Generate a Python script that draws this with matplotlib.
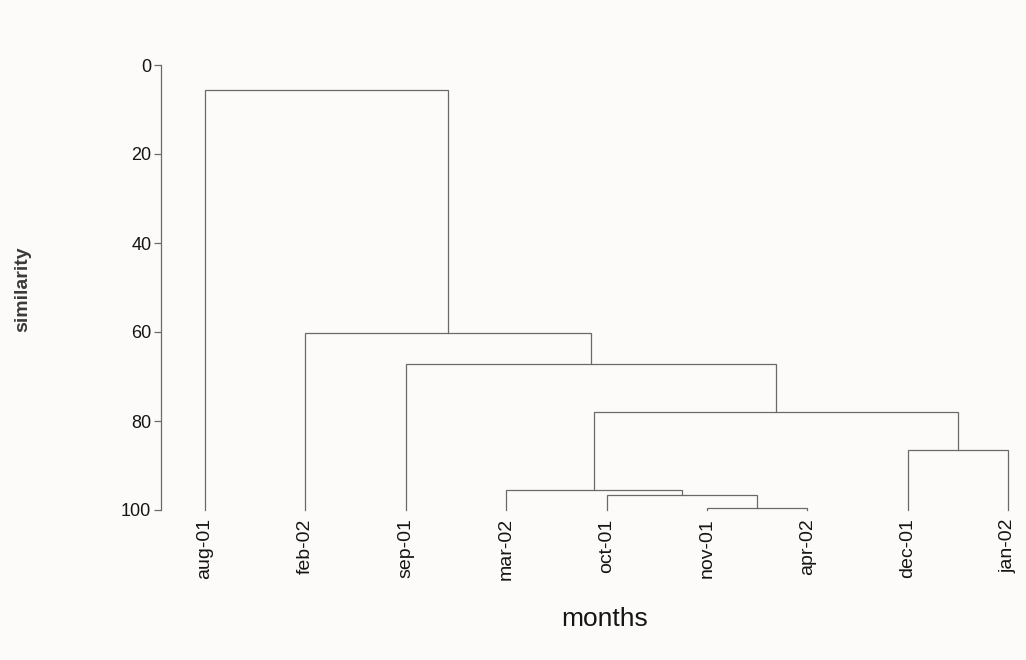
import matplotlib
matplotlib.use("Agg")
import matplotlib.pyplot as plt

# leaves in the order they appear along the x axis
leaves = ["aug-01", "feb-02", "sep-01", "mar-02", "oct-01",
          "nov-01", "apr-02", "dec-01", "jan-02"]

# merges: (left child, right child, similarity at which they join)
merge_left = ["nov-01", "oct-01", "mar-02", "dec-01", "c3", "sep-01", "feb-02", "aug-01"]
merge_right = ["apr-02", "c1", "c2", "jan-02", "c4", "c5", "c6", "c7"]
merge_height = [99.6, 96.6, 95.5, 86.5, 78.0, 67.2, 60.2, 5.6]

yticks = [0, 20, 40, 60, 80, 100]

line_color = "#6a6a6a"
text_color = "#151515"
bg = "#fcfbf9"

plt.rcParams["font.family"] = ["Liberation Sans", "DejaVu Sans"]

fig = plt.figure(figsize=(10.26, 6.6), dpi=100, facecolor=bg)
ax = fig.add_axes([161 / 1026, 150 / 660, 859 / 1026, 445 / 660])
ax.set_facecolor(bg)

# x position and height of every node
pos = {name: i for i, name in enumerate(leaves)}
top = {name: 100.0 for name in leaves}

for k, (a, b, h) in enumerate(zip(merge_left, merge_right, merge_height)):
    name = "c%d" % (k + 1)
    xa, xb = pos[a], pos[b]
    ax.plot([xa, xa, xb, xb], [top[a], h, h, top[b]],
            color=line_color, linewidth=0.9, solid_joinstyle="miter",
            clip_on=False)
    pos[name] = (xa + xb) / 2.0
    top[name] = h

px_per_leaf = (1008 - 205) / 8.0
ax.set_xlim(-(205 - 161) / px_per_leaf, 8 + (1020 - 1008) / px_per_leaf)
ax.set_ylim(100, 0)

for side in ["top", "right", "bottom"]:
    ax.spines[side].set_visible(False)
ax.spines["left"].set_color(line_color)
ax.spines["left"].set_linewidth(0.9)
ax.spines["left"].set_bounds(0, 100)

ax.set_yticks(yticks)
ax.set_yticklabels([str(t) for t in yticks], fontsize=13, color=text_color)
ax.tick_params(axis="y", length=5, width=0.9, color=line_color, pad=2)

ax.set_xticks(range(len(leaves)))
ax.set_xticklabels(leaves, rotation=90, fontsize=14, color=text_color)
ax.tick_params(axis="x", length=0, pad=6)

fig.text(605 / 1026, 1 - 619 / 660, "months", fontsize=19, color=text_color,
         ha="center", va="center")
fig.text(23 / 1026, 1 - 289 / 660, "similarity", fontsize=14, color="#3a3a3a",
         fontweight="bold", rotation=90, ha="center", va="center")

fig.savefig("out.png", dpi=100, facecolor=bg)
